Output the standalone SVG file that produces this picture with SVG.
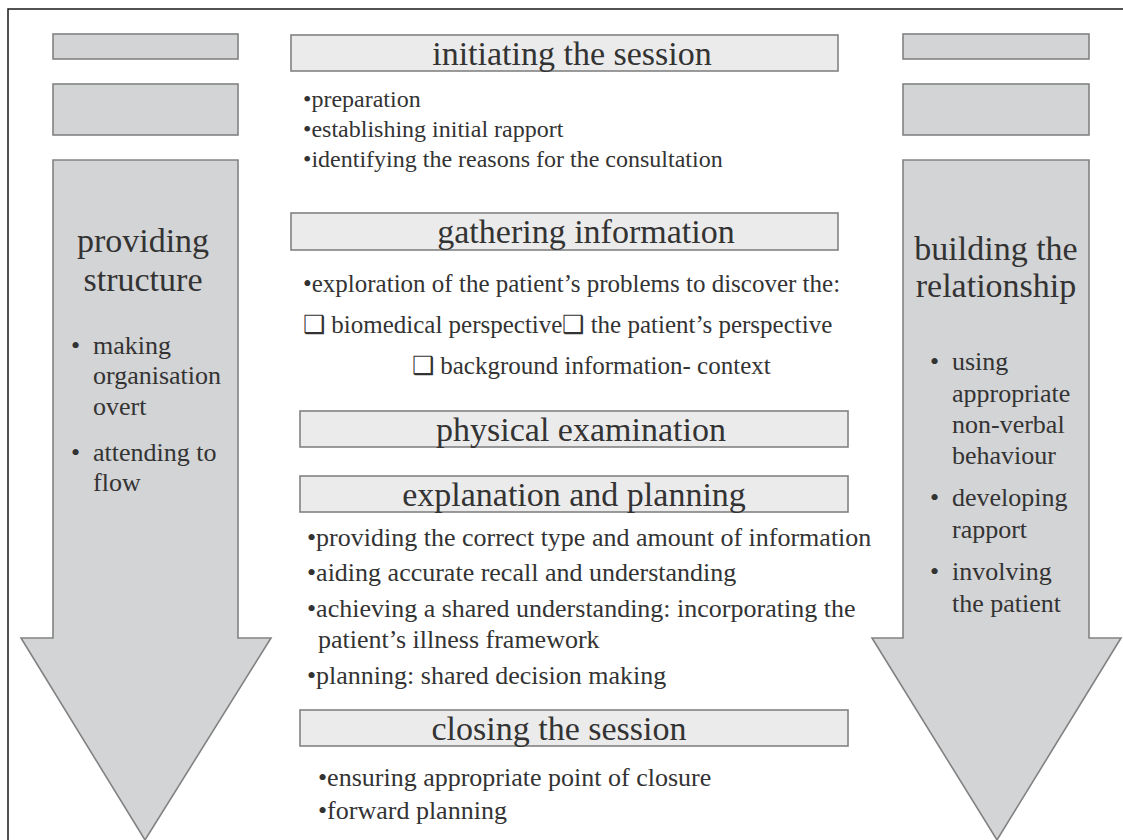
<svg xmlns="http://www.w3.org/2000/svg" width="1123" height="840" viewBox="0 0 1123 840">
<style>
.side{fill:#d3d4d6;stroke:#828282;stroke-width:1.6}
.hbox{fill:#ebebec;stroke:#828282;stroke-width:1.6}
text{font-family:"Liberation Serif","Times New Roman",serif;fill:#333333}
.h{font-size:34px;text-anchor:middle}
.b1{font-size:24px}
.b{font-size:25px}
.b2{font-size:26px}
.st{font-size:34px;text-anchor:middle}
.sb{font-size:26px}
</style>
<rect width="1123" height="840" fill="#ffffff"/>
<path d="M8,840 V9 H1123" fill="none" stroke="#1a1a1a" stroke-width="1.5"/>
<g id="left-column">
<rect class="side" x="53" y="34" width="185" height="25"/>
<rect class="side" x="53" y="84" width="185" height="51"/>
<polygon class="side" points="53,160 238,160 238,638 271,638 145,840 21,638 53,638"/>
<text class="st" x="143" y="252">providing</text>
<text class="st" x="143" y="291">structure</text>
<text class="sb" x="71" y="354">•</text>
<text class="sb" x="93" y="354">making</text>
<text class="sb" x="93" y="384">organisation</text>
<text class="sb" x="93" y="415">overt</text>
<text class="sb" x="71" y="461">•</text>
<text class="sb" x="93" y="461">attending to</text>
<text class="sb" x="93" y="491">flow</text>
</g>
<g id="right-column">
<rect class="side" x="903" y="34" width="186" height="25"/>
<rect class="side" x="903" y="84" width="186" height="51"/>
<polygon class="side" points="903,160 1089,160 1089,638 1121,638 997,840 872,638 903,638"/>
<text class="st" x="996" y="260">building the</text>
<text class="st" x="996" y="297">relationship</text>
<text class="sb" x="930" y="370">•</text>
<text class="sb" x="952" y="370">using</text>
<text class="sb" x="952" y="402">appropriate</text>
<text class="sb" x="952" y="433">non-verbal</text>
<text class="sb" x="952" y="464">behaviour</text>
<text class="sb" x="930" y="506">•</text>
<text class="sb" x="952" y="506">developing</text>
<text class="sb" x="952" y="538">rapport</text>
<text class="sb" x="930" y="580">•</text>
<text class="sb" x="952" y="580">involving</text>
<text class="sb" x="952" y="612">the patient</text>
</g>
<g id="initiating">
<rect class="hbox" x="291" y="35" width="547" height="36"/>
<text class="h" x="572" y="65">initiating the session</text>
<text class="b1" x="303" y="107">•preparation</text>
<text class="b1" x="303" y="137">•establishing initial rapport</text>
<text class="b1" x="303" y="167">•identifying the reasons for the consultation</text>
</g>
<g id="gathering">
<rect class="hbox" x="291" y="213" width="547" height="37"/>
<text class="h" x="586" y="243">gathering information</text>
<text class="b" x="303" y="292">•exploration of the patient’s problems to discover the:</text>
<text class="b" x="303" y="333">❑ biomedical perspective❑ the patient’s perspective</text>
<text class="b" x="412" y="374">❑ background information- context</text>
</g>
<g id="physical">
<rect class="hbox" x="300" y="411" width="548" height="36"/>
<text class="h" x="581" y="441">physical examination</text>
</g>
<g id="explanation">
<rect class="hbox" x="300" y="476" width="548" height="36"/>
<text class="h" x="574" y="506">explanation and planning</text>
<text class="b2" x="307" y="546">•providing the correct type and amount of information</text>
<text class="b2" x="307" y="581">•aiding accurate recall and understanding</text>
<text class="b2" x="307" y="617">•achieving a shared understanding: incorporating the</text>
<text class="b2" x="318" y="648">patient’s illness framework</text>
<text class="b2" x="307" y="684">•planning: shared decision making</text>
</g>
<g id="closing">
<rect class="hbox" x="300" y="710" width="548" height="36"/>
<text class="h" x="559" y="740">closing the session</text>
<text class="b2" x="318" y="786">•ensuring appropriate point of closure</text>
<text class="b2" x="318" y="819">•forward planning</text>
</g>
<g id="connectors"></g>
</svg>
